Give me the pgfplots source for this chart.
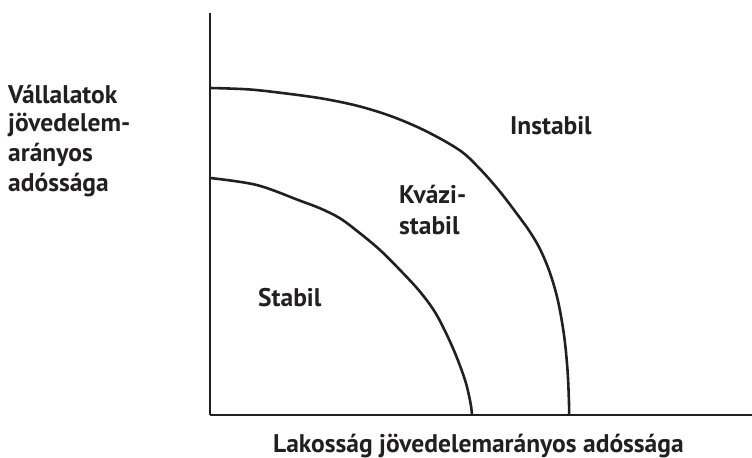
\documentclass[border=0pt]{standalone}
\usepackage{fontspec}
\setmainfont{PT Sans}
\usepackage{pgfplots}
\pgfplotsset{compat=1.18}
\definecolor{ink}{HTML}{231F20}
\tikzset{lbl/.style={font=\fontsize{25.6}{30}\selectfont\bfseries, text=ink, inner sep=0pt, anchor=base west}}
\begin{document}
\begin{tikzpicture}
\path[use as bounding box] (0,0) rectangle (752bp,458bp);
\begin{axis}[
  at={(210bp,43bp)}, anchor=south west,
  scale only axis, width=542bp, height=402bp,
  xmin=0, xmax=542, ymin=0, ymax=402,
  axis lines*=left,
  axis line style={line width=2.2pt, color=ink},
  xtick=\empty, ytick=\empty,
  clip=false,
]
% outer boundary (Kvázi-stabil / Instabil)
\addplot[smooth, tension=0.55, line width=2.6pt, color=ink] coordinates {
  (0,327) (40,325.5) (80,321) (115,316) (150,308.5) (183.3,298)
  (216.7,283.5) (250,264.5) (270,246) (290,223.3) (310,197) (320,183)
  (330,166) (340,142) (348,114) (354,80) (357.5,45) (359,12) (359,0)
};
% inner boundary (Stabil / Kvázi-stabil)
\addplot[smooth, tension=0.55, line width=2.6pt, color=ink] coordinates {
  (0,237) (46.7,230) (90,214.3) (110,206.7) (130,196.7) (150,181.7)
  (170,165) (190,145) (210,123.3) (226.7,100) (243.3,66) (255,35)
  (260.5,12) (262,0)
};
\node[lbl] at (axis cs:300,280) {Instabil};
\node[lbl] at (axis cs:189,211) {Kvázi-};
\node[lbl] at (axis cs:189,180) {stabil};
\node[lbl] at (axis cs:48,108) {Stabil};
\node[lbl] at (axis cs:63,-37) {Lakosság jövedelemarányos adóssága};
\node[lbl] at (axis cs:-202,311) {Vállalatok};
\node[lbl] at (axis cs:-202,283) {jövedelem-};
\node[lbl] at (axis cs:-202,253) {arányos};
\node[lbl] at (axis cs:-202,223) {adóssága};
\end{axis}
\end{tikzpicture}
\end{document}
